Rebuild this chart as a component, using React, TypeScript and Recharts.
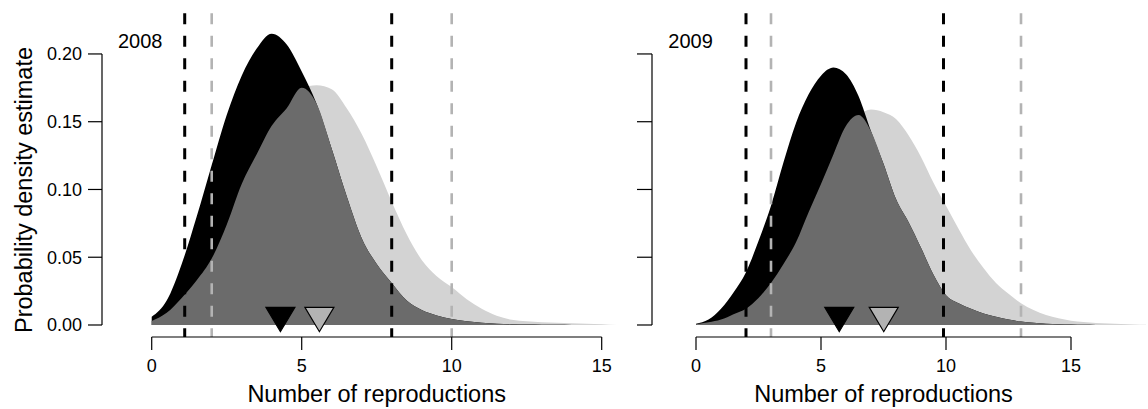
import { Area, ComposedChart, Label, ReferenceLine, Scatter, XAxis, YAxis } from "recharts";

const FONT = '"Liberation Sans", Arial, Helvetica, sans-serif';

const xTicks = [0, 5, 10, 15];
const yTicks = [0, 0.05, 0.1, 0.15, 0.2];
const Y_MIN = -0.00886;
const Y_MAX = 0.23;

// 2008
const grid2008 = [0, 0.5, 1, 1.5, 2, 2.5, 3, 3.5, 4, 4.5, 5, 5.5, 6, 6.5, 7, 7.5, 8, 8.5, 9, 9.5, 10, 10.5, 11, 11.5, 12, 12.5, 13, 13.5, 14, 14.5, 15, 15.5];
const black2008 = [0.006, 0.018, 0.045, 0.08, 0.118, 0.155, 0.184, 0.204, 0.215, 0.207, 0.187, 0.163, 0.13, 0.095, 0.064, 0.045, 0.031, 0.018, 0.011, 0.007, 0.0045, 0.0028, 0.0017, 0.001, 0.0006, 0.0003, 0.0002, 0.0001, 0, 0, 0, 0];
const grey2008 = [0.003, 0.009, 0.02, 0.033, 0.049, 0.074, 0.104, 0.126, 0.147, 0.16, 0.175, 0.177, 0.174, 0.16, 0.141, 0.117, 0.091, 0.067, 0.048, 0.036, 0.028, 0.019, 0.012, 0.0068, 0.0039, 0.0027, 0.0021, 0.0017, 0.0013, 0.001, 0.0006, 0];
const blackLimits2008 = [1.1, 8];
const greyLimits2008 = [2, 10];
const blackMean2008 = 4.29;
const greyMean2008 = 5.59;

// 2009
const grid2009 = [0, 0.5, 1, 1.5, 2, 2.5, 3, 3.5, 4, 4.5, 5, 5.5, 6, 6.5, 7, 7.5, 8, 8.5, 9, 9.5, 10, 10.5, 11, 11.5, 12, 12.5, 13, 13.5, 14, 14.5, 15, 15.5, 16, 16.5, 17, 17.5, 18];
const black2009 = [0.001, 0.004, 0.012, 0.024, 0.039, 0.062, 0.088, 0.12, 0.149, 0.17, 0.184, 0.19, 0.185, 0.169, 0.143, 0.119, 0.093, 0.076, 0.057, 0.037, 0.022, 0.016, 0.012, 0.0085, 0.006, 0.004, 0.0025, 0.0016, 0.001, 0.0006, 0.0003, 0.0001, 0, 0, 0, 0, 0];
const grey2009 = [0.0005, 0.002, 0.004, 0.008, 0.012, 0.02, 0.031, 0.045, 0.061, 0.083, 0.104, 0.126, 0.147, 0.155, 0.159, 0.157, 0.152, 0.14, 0.124, 0.105, 0.088, 0.071, 0.055, 0.042, 0.031, 0.023, 0.016, 0.011, 0.0074, 0.005, 0.0032, 0.0022, 0.0015, 0.0011, 0.0007, 0.0004, 0.0002];
const blackLimits2009 = [2, 9.9];
const greyLimits2009 = [3, 13];
const blackMean2009 = 5.73;
const greyMean2009 = 7.51;

function rows(grid: number[], black: number[], grey: number[]) {
  return grid.map((x, i) => ({ x, black: black[i], grey: grey[i], both: Math.min(black[i], grey[i]) }));
}

function Triangle(props: any) {
  const { cx, cy, fill } = props;
  return <polygon points={`${cx - 14.5},${cy - 17.7} ${cx + 14.5},${cy - 17.7} ${cx},${cy + 6.7}`} fill={fill} stroke="#000" strokeWidth={1.2} />;
}

type PanelProps = {
  left: number;
  width: number;
  marginLeft: number;
  marginRight: number;
  yWidth: number;
  xDomain: [number, number];
  data: { x: number; black: number; grey: number; both: number }[];
  blackLimits: number[];
  greyLimits: number[];
  blackMean: number;
  greyMean: number;
  year: string;
  yearX: number;
  titleX: number;
  yLabels: boolean;
};

function Panel(p: PanelProps) {
  const texts = () => (
    <g fill="#000" style={{ fontFamily: FONT }}>
      <text x={p.yearX} y={48.3} fontSize={20}>{p.year}</text>
      <text x={p.titleX} y={401.7} fontSize={23.5} textAnchor="middle">Number of reproductions</text>
      {p.yLabels && (
        <text x={31.7} y={190} fontSize={23.5} textAnchor="middle" transform="rotate(-90, 31.7, 190)">Probability density estimate</text>
      )}
    </g>
  );
  return (
    <div style={{ position: "absolute", left: p.left, top: 0 }}>
      <ComposedChart width={p.width} height={409} data={p.data} margin={{ top: 13.3, right: p.marginRight, bottom: 12, left: p.marginLeft }}>
        <XAxis dataKey="x" type="number" domain={p.xDomain} ticks={xTicks} interval={0} allowDataOverflow axisLine={false} tickLine={{ stroke: "#000", strokeWidth: 1.2 }} tickSize={13} tickMargin={9} height={60} tick={{ fill: "#000", fontSize: 18 }}>
          <Label content={texts} />
        </XAxis>
        <YAxis type="number" domain={[Y_MIN, Y_MAX]} ticks={yTicks} interval={0} allowDataOverflow axisLine={false} tickLine={{ stroke: "#000", strokeWidth: 1.2 }} tickSize={p.yLabels ? 14 : 15} tickMargin={6} width={p.yWidth} tick={{ fill: "#000", fontSize: 18 }} tickFormatter={(v) => (p.yLabels ? Number(v).toFixed(2) : "")} />
        <Area type="monotone" dataKey="grey" baseValue={0} stroke="none" fill="#d3d3d3" fillOpacity={1} dot={false} activeDot={false} isAnimationActive={false} />
        <Area type="monotone" dataKey="black" baseValue={0} stroke="none" fill="#000" fillOpacity={1} dot={false} activeDot={false} isAnimationActive={false} />
        <Area type="monotone" dataKey="both" baseValue={0} stroke="none" fill="#6b6b6b" fillOpacity={1} dot={false} activeDot={false} isAnimationActive={false} />
        {p.blackLimits.map((v) => (
          <ReferenceLine key={`b${v}`} segment={[{ x: v, y: Y_MAX }, { x: v, y: Y_MIN }]} stroke="#000" strokeWidth={3} strokeDasharray="11 11.5" ifOverflow="visible" />
        ))}
        {p.greyLimits.map((v) => (
          <ReferenceLine key={`g${v}`} segment={[{ x: v, y: Y_MAX }, { x: v, y: Y_MIN }]} stroke="#b3b3b3" strokeWidth={2.6} strokeDasharray="11 11.5" ifOverflow="visible" />
        ))}
        <ReferenceLine segment={[{ x: 0, y: Y_MIN }, { x: 15, y: Y_MIN }]} stroke="#000" strokeWidth={1.2} ifOverflow="visible" />
        <ReferenceLine segment={[{ x: p.xDomain[0], y: 0 }, { x: p.xDomain[0], y: 0.2 }]} stroke="#000" strokeWidth={1.2} ifOverflow="visible" />
        <Scatter data={[{ x: p.blackMean, y: 0 }]} dataKey="y" fill="#000" shape={Triangle} isAnimationActive={false} />
        <Scatter data={[{ x: p.greyMean, y: 0 }]} dataKey="y" fill="#b3b3b3" shape={Triangle} isAnimationActive={false} />
      </ComposedChart>
    </div>
  );
}

export default function App() {
  return (
    <div style={{ position: "absolute", left: 0, top: 0, width: 1148, height: 409, overflow: "hidden", background: "#fff", fontFamily: FONT }}>
      <Panel left={0} width={640} marginLeft={30} marginRight={20.3} yWidth={72} xDomain={[-1.657, 15.6]} data={rows(grid2008, black2008, grey2008)} blackLimits={blackLimits2008} greyLimits={greyLimits2008} blackMean={blackMean2008} greyMean={greyMean2008} year="2008" yearX={118} titleX={376.7} yLabels />
      <Panel left={560} width={588} marginLeft={72} marginRight={0} yWidth={20} xDomain={[-1.76, 18.08]} data={rows(grid2009, black2009, grey2009)} blackLimits={blackLimits2009} greyLimits={greyLimits2009} blackMean={blackMean2009} greyMean={greyMean2009} year="2009" yearX={108.3} titleX={323.5} yLabels={false} />
    </div>
  );
}
